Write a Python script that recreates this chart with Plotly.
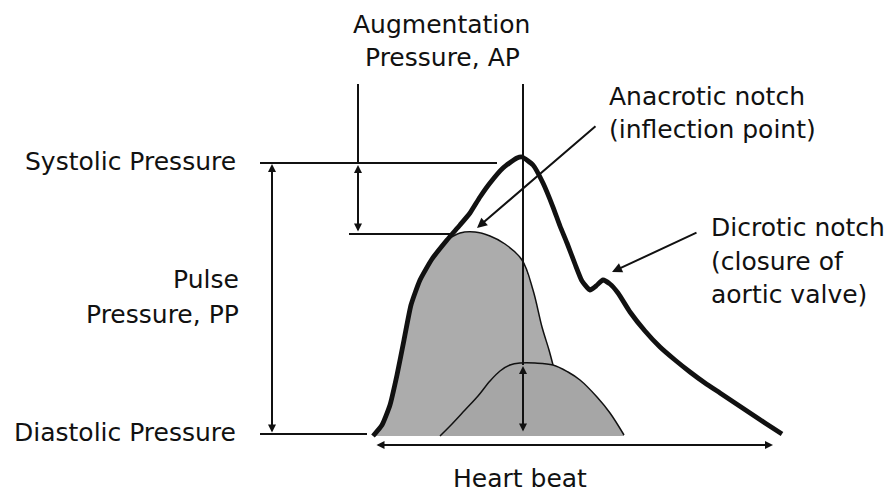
import plotly.graph_objects as go

# ---- waveform data (diagram coordinates: x = time, y = depth from top) ----
main_x = [373, 382, 390, 397, 404, 411, 420, 432, 447, 460, 470, 480, 490, 503, 517, 522, 533, 543, 553, 560, 567, 575, 582, 590, 596, 603, 610, 618, 630, 645, 660, 675, 690, 705, 720, 735, 750, 765, 782]
main_y = [436, 425, 405, 375, 340, 305, 280, 259, 240, 225, 213, 197, 183, 168, 158, 157, 165, 183, 207, 226, 243, 264, 281, 290, 286, 280, 284, 293, 312, 331, 347, 360, 372, 383, 393, 403, 413, 423, 434]

early_x = [373, 382, 390, 397, 404, 411, 420, 432, 447, 460, 475, 490, 505, 522, 533, 542, 549, 553]
early_y = [436, 425, 405, 375, 340, 305, 280, 259, 240, 233, 232, 236, 244, 260, 290, 327, 350, 365]

late_x = [440, 452, 465, 478, 490, 500, 510, 520, 535, 553, 568, 580, 597, 610, 624]
late_y = [436, 424, 410, 396, 381, 371, 365, 363, 363, 365, 372, 380, 397, 413, 435]

baseline_y = 436

levels = {"systolic": 163, "inflection": 234, "diastolic": 434}

font_family = "DejaVu Sans"
fs = 25
ink = "#111111"
gray_early = "#acacac"
gray_late = "#a6a6a6"

fig = go.Figure()

# early (incident) wave fill
fig.add_trace(go.Scatter(
    x=early_x + [early_x[-1] + 8, early_x[0]],
    y=early_y + [baseline_y, baseline_y],
    fill="toself", fillcolor=gray_early, mode="none", hoverinfo="skip"))
# early wave outline (thin)
fig.add_trace(go.Scatter(x=early_x[8:], y=early_y[8:], mode="lines",
                         line=dict(color=ink, width=1.5, shape="spline", smoothing=1.0), hoverinfo="skip"))

# late (reflected) wave fill
fig.add_trace(go.Scatter(
    x=late_x + [late_x[-1], late_x[0]],
    y=late_y + [baseline_y, baseline_y],
    fill="toself", fillcolor=gray_late, mode="none", hoverinfo="skip"))
fig.add_trace(go.Scatter(x=late_x, y=late_y, mode="lines",
                         line=dict(color=ink, width=1.5, shape="spline", smoothing=1.0), hoverinfo="skip"))

# main pressure waveform (thick)
fig.add_trace(go.Scatter(x=main_x, y=main_y, mode="lines",
                         line=dict(color=ink, width=4.8, shape="spline", smoothing=0.5), hoverinfo="skip"))

# reference lines
fig.add_shape(type="line", x0=260, x1=497, y0=levels["systolic"], y1=levels["systolic"], line=dict(color=ink, width=2))
fig.add_shape(type="line", x0=260, x1=367, y0=levels["diastolic"], y1=levels["diastolic"], line=dict(color=ink, width=2))
fig.add_shape(type="line", x0=349, x1=450, y0=levels["inflection"], y1=levels["inflection"], line=dict(color=ink, width=2))
fig.add_shape(type="line", x0=358, x1=358, y0=84, y1=levels["systolic"], line=dict(color=ink, width=2))
fig.add_shape(type="line", x0=523, x1=523, y0=84, y1=365, line=dict(color=ink, width=2))

def arrow(x0, y0, x1, y1, both=False, width=2, size=1.0):
    fig.add_annotation(x=x1, y=y1, ax=x0, ay=y0, xref="x", yref="y", axref="x", ayref="y",
                       text="", showarrow=True, arrowhead=2, arrowsize=size, arrowwidth=width,
                       arrowcolor=ink, arrowside="end+start" if both else "end", startarrowhead=2,
                       startarrowsize=size)

arrow(272, levels["diastolic"], 272, levels["systolic"] + 1, both=True, size=0.8)      # pulse pressure
arrow(358, levels["inflection"] - 1, 358, levels["systolic"] + 2, both=True, size=0.8)  # augmentation
arrow(523, 433, 523, 366, both=True, size=0.8)                                          # reflected wave height
arrow(375, 445, 773, 445, both=True, size=0.8)                                          # heart beat
arrow(597, 125, 477, 228, size=1.0)                                                     # anacrotic notch
arrow(698, 232, 612, 272, size=1.0)                                                     # dicrotic notch

def label(text, x, y, anchor="left"):
    fig.add_annotation(x=x, y=y, xref="x", yref="y", text=text, showarrow=False,
                       xanchor=anchor, yanchor="middle",
                       font=dict(family=font_family, size=fs, color=ink))

label("Augmentation", 441, 24, "center")
label("Pressure, AP", 442, 57, "center")
label("Anacrotic notch", 607, 96)
label("(inflection point)", 607, 129)
label("Dicrotic notch", 709, 227)
label("(closure of", 709, 261)
label("aortic valve)", 709, 294)
label("Systolic Pressure", 238, 161, "right")
label("Pulse", 241, 279, "right")
label("Pressure, PP", 241, 314, "right")
label("Diastolic Pressure", 238, 432, "right")
label("Heart beat", 520, 478, "center")

fig.update_layout(
    width=885, height=492, margin=dict(l=0, r=0, t=0, b=0),
    paper_bgcolor="white", plot_bgcolor="white", showlegend=False,
    xaxis=dict(range=[0, 885], visible=False, fixedrange=True),
    yaxis=dict(range=[492, 0], visible=False, fixedrange=True),
)

fig.write_html("out.html", config={"displayModeBar": False},
               post_script="document.body.style.margin='0';document.body.style.overflow='hidden';")
